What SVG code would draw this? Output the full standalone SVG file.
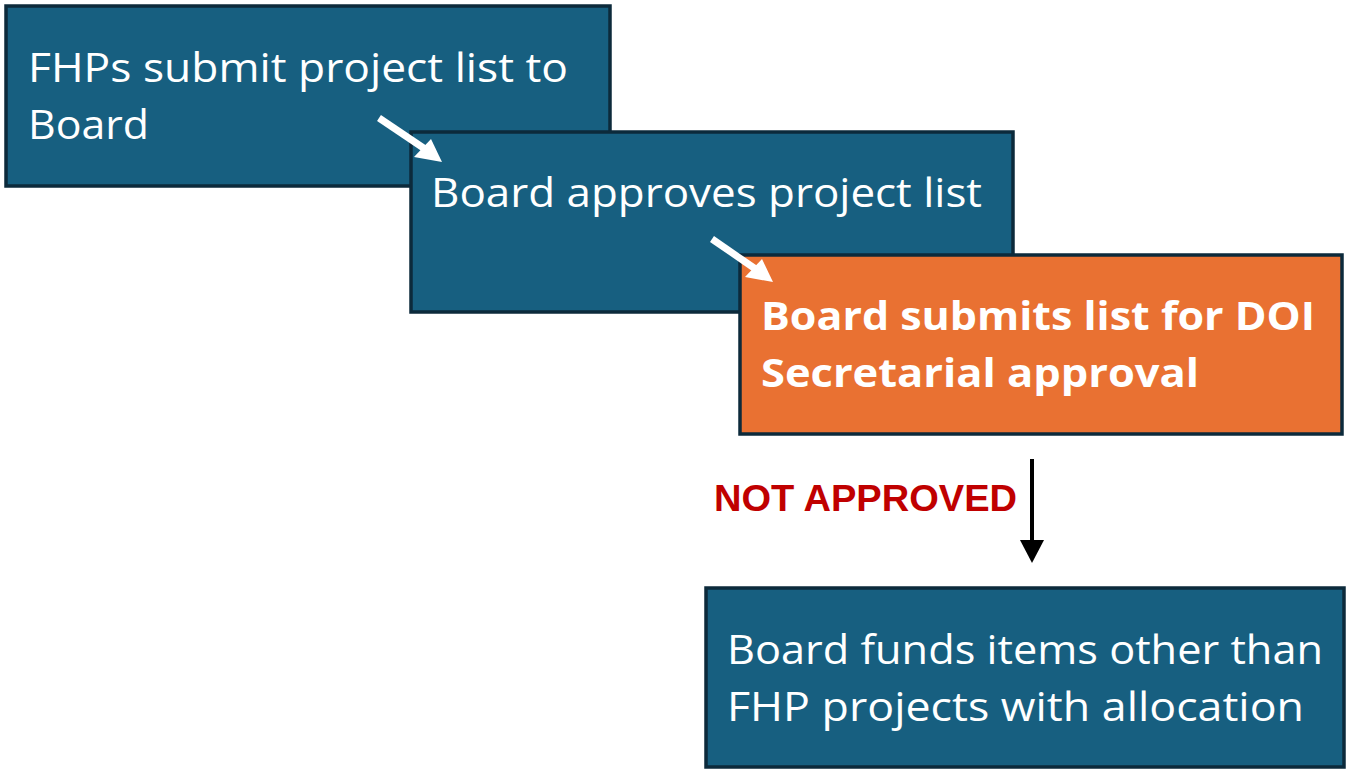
<svg xmlns="http://www.w3.org/2000/svg" width="1355" height="772" viewBox="0 0 1355 772">
<defs>
<style>
.box{fill:#175f80;stroke:#0c2a3b;stroke-width:3.5}
.orange{fill:#e97132;stroke:#0c2a3b;stroke-width:3.5}
.t{font-family:"Open Sans","Liberation Sans",sans-serif;font-size:40px;fill:#ffffff}
.tb{font-family:"Open Sans","Liberation Sans",sans-serif;font-size:40px;font-weight:bold;fill:#ffffff}
.lbl{font-family:"Liberation Sans",Arial,sans-serif;font-size:37px;font-weight:bold;fill:#c00000}
</style>
</defs>
<rect width="1355" height="772" fill="#ffffff"/>
<g id="node1">
<rect class="box" x="6" y="6" width="604" height="180"/>
<text class="t" x="28" y="82" textLength="540" lengthAdjust="spacingAndGlyphs">FHPs submit project list to</text>
<text class="t" x="28" y="139" textLength="121" lengthAdjust="spacingAndGlyphs">Board</text>
</g>
<g id="node2">
<rect class="box" x="411" y="132" width="602" height="180"/>
<text class="t" x="431" y="207" textLength="551" lengthAdjust="spacingAndGlyphs">Board approves project list</text>
</g>
<g id="node3">
<rect class="orange" x="740" y="255" width="602" height="179"/>
<text class="tb" x="761" y="330" textLength="554" lengthAdjust="spacingAndGlyphs">Board submits list for DOI</text>
<text class="tb" x="761" y="387" textLength="438" lengthAdjust="spacingAndGlyphs">Secretarial approval</text>
</g>
<g id="node4">
<rect class="box" x="706" y="588" width="638" height="179"/>
<text class="t" x="727" y="664" textLength="596" lengthAdjust="spacingAndGlyphs">Board funds items other than</text>
<text class="t" x="727" y="721" textLength="577" lengthAdjust="spacingAndGlyphs">FHP projects with allocation</text>
</g>
<g id="connectors">
<g fill="#ffffff" stroke="none">
<line x1="379" y1="118" x2="425" y2="149" stroke="#ffffff" stroke-width="7"/>
<polygon points="442,162 414,157 431,139"/>
<line x1="712" y1="239" x2="757" y2="270" stroke="#ffffff" stroke-width="7"/>
<polygon points="773,282 745,277 762,259"/>
</g>
<line x1="1032" y1="459" x2="1032" y2="542" stroke="#000000" stroke-width="4"/>
<polygon points="1020,540 1044,540 1032,563" fill="#000000"/>
<text class="lbl" x="714" y="511" textLength="303" lengthAdjust="spacingAndGlyphs">NOT APPROVED</text>
</g>
</svg>
